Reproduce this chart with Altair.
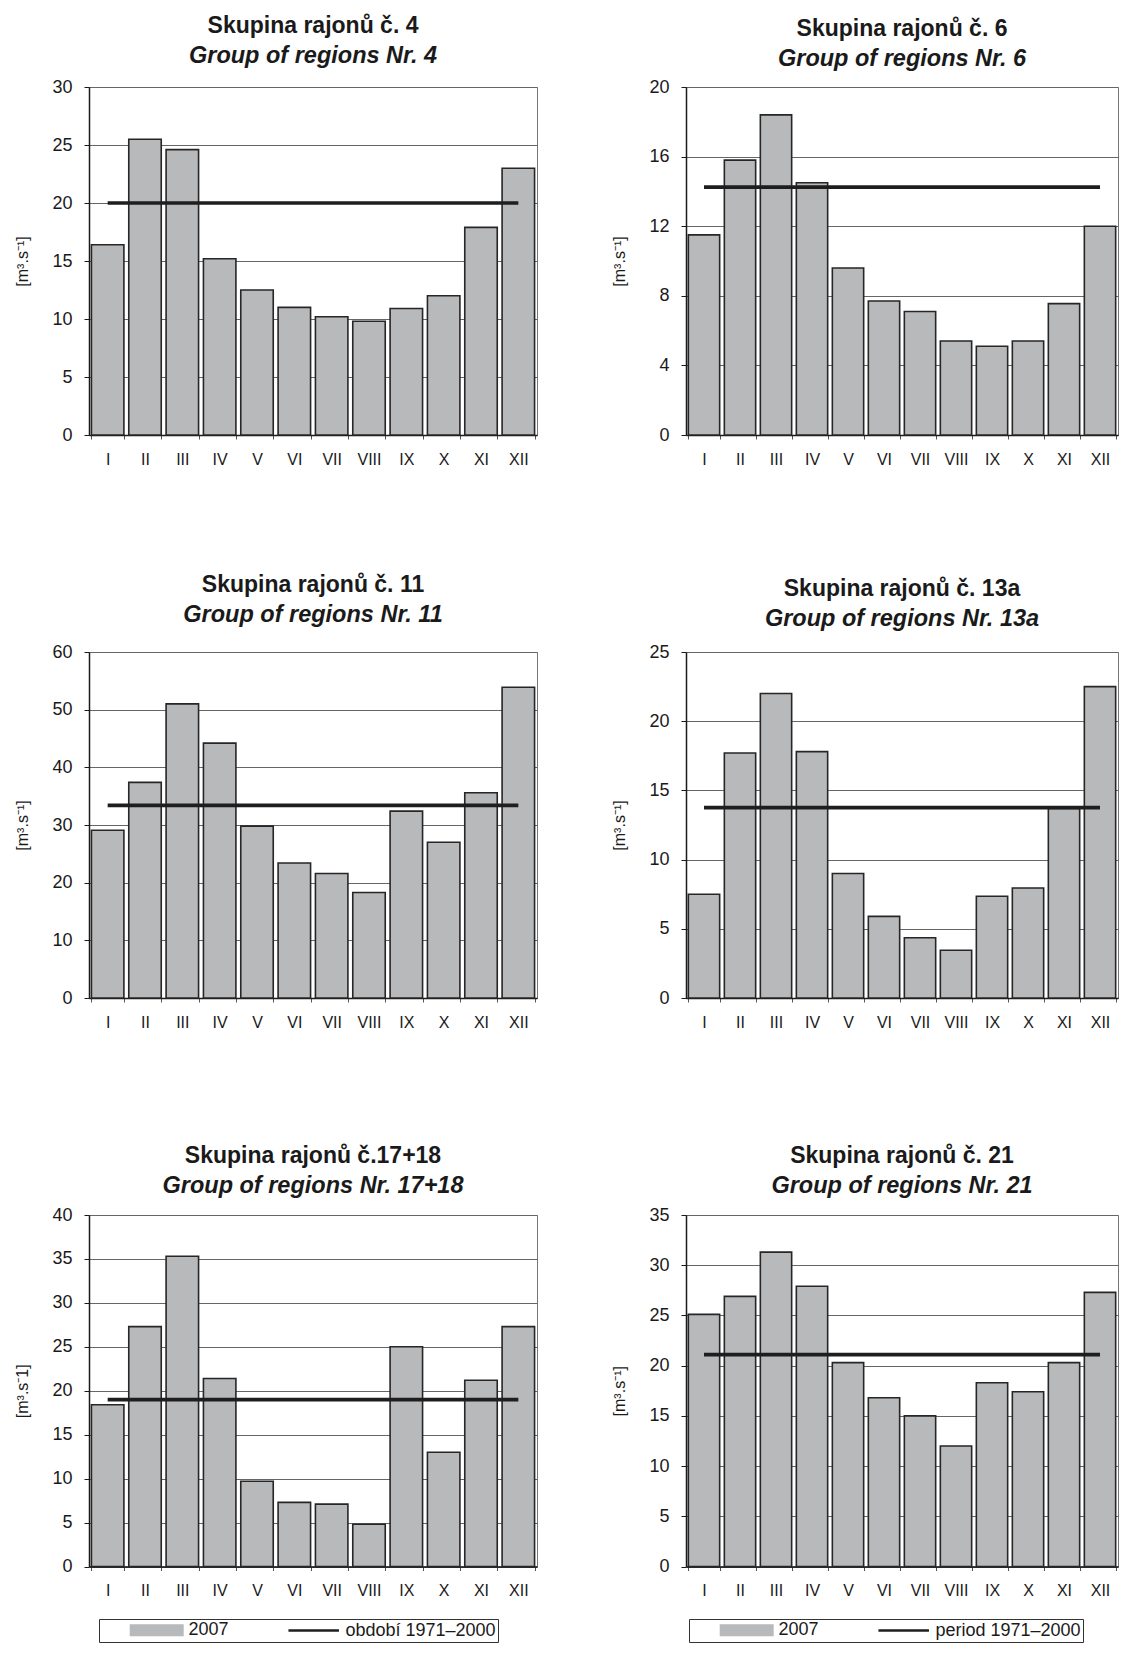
import altair as alt
import pandas as pd

FONT = "Liberation Sans, Arial, Helvetica, sans-serif"
TXT = "#1a1a1a"
BAR_FILL = "#b8b9bb"
BAR_STROKE = "#262626"
LINE_COLOR = "#1e1e1e"
GRID = "#666666"

months = ["I", "II", "III", "IV", "V", "VI", "VII", "VIII", "IX", "X", "XI", "XII"]
line_ends = ["I", "XII"]

titles_cz = ["Skupina rajonů č. 4", "Skupina rajonů č. 6", "Skupina rajonů č. 11",
             "Skupina rajonů č. 13a", "Skupina rajonů č.17+18", "Skupina rajonů č. 21"]
titles_en = ["Group of regions Nr. 4", "Group of regions Nr. 6", "Group of regions Nr. 11",
             "Group of regions Nr. 13a", "Group of regions Nr. 17+18", "Group of regions Nr. 21"]

# 2007 monthly values [m3/s]
v4 = [16.4, 25.5, 24.6, 15.2, 12.5, 11.0, 10.2, 9.8, 10.9, 12.0, 17.9, 23.0]
v6 = [11.5, 15.8, 18.4, 14.5, 9.6, 7.7, 7.1, 5.4, 5.1, 5.4, 7.55, 12.0]
v11 = [29.1, 37.4, 51.0, 44.2, 29.8, 23.4, 21.6, 18.3, 32.4, 27.0, 35.6, 53.9]
v13a = [7.5, 17.7, 22.0, 17.8, 9.0, 5.9, 4.35, 3.45, 7.35, 7.95, 13.7, 22.5]
v17 = [18.4, 27.3, 35.3, 21.4, 9.7, 7.3, 7.1, 4.8, 25.0, 13.0, 21.2, 27.3]
v21 = [25.1, 26.9, 31.3, 27.9, 20.3, 16.8, 15.0, 12.0, 18.3, 17.4, 20.3, 27.3]
values = [v4, v6, v11, v13a, v17, v21]

# long-term mean 1971-2000
ltm = [20.0, 14.25, 33.4, 13.75, 19.0, 21.1]

y_max = [30, 20, 60, 25, 40, 35]
y_ticks = [
    [0, 5, 10, 15, 20, 25, 30],
    [0, 4, 8, 12, 16, 20],
    [0, 10, 20, 30, 40, 50, 60],
    [0, 5, 10, 15, 20, 25],
    [0, 5, 10, 15, 20, 25, 30, 35, 40],
    [0, 5, 10, 15, 20, 25, 30, 35],
]
y_titles = ["[m³.s⁻¹]", "[m³.s⁻¹]", "[m³.s⁻¹]", "[m³.s⁻¹]", "[m³.s⁻1]", "[m³.s⁻¹]"]

bar_label = "2007"
line_labels = ["období 1971–2000", "period 1971–2000", "období 1971–2000",
               "period 1971–2000", "období 1971–2000", "period 1971–2000"]
show_legend = [False, False, False, False, True, True]

# layout (px)
widths = [448, 432, 448, 432, 448, 432]
heights = [348, 348, 346, 346, 351.5, 351.5]
title_offsets = [10.5, 7.3, 16.3, 13, 9, 9]
legend_x = [0, 0, 0, 0, 10, 3]
legend_y = 404

RECT_PATH = "M-4.5,-1H4.5V1H-4.5Z"
LINE_PATH = "M-4.21,-0.22H4.21V0.22H-4.21Z"


def make_legend(i):
    return alt.Legend(
        orient="none", legendX=legend_x[i], legendY=legend_y,
        direction="horizontal", columns=2, title=None,
        padding=2, strokeColor="#333333", fillColor="white",
        symbolSize=144, symbolStrokeWidth=1.8,
        symbolStrokeColor="#111111", symbolOpacity=1,
        symbolOffset=46.7, labelOffset=22.7, columnPadding=29,
        labelFont=FONT, labelFontSize=18, labelColor=TXT,
    )


def panel(i):
    w = widths[i]
    h = heights[i]
    bars_df = pd.DataFrame({"month": months, "value": values[i], "series": bar_label})
    line_df = pd.DataFrame({"month": line_ends, "value": [ltm[i], ltm[i]], "series": line_labels[i]})

    x_axis = alt.Axis(
        title=None, labelAngle=0, labelFont=FONT, labelFontSize=16, labelColor=TXT,
        labelPadding=12, tickBand="extent", tickSize=4, tickColor="#555555",
        domainColor=TXT, domainWidth=1.5, grid=False,
    )
    y_axis = alt.Axis(
        values=y_ticks[i], title=y_titles[i], titleX=-67, titleY=h / 2, titleAngle=270,
        titleAlign="center", titleBaseline="middle", titleFont=FONT, titleFontSize=16,
        titleFontWeight="normal", titleColor=TXT,
        labelFont=FONT, labelFontSize=18, labelColor=TXT, labelPadding=12,
        tickSize=5, tickColor=TXT, domainColor=TXT, domainWidth=1.5,
        grid=True, gridColor=GRID, gridWidth=1,
    )
    x_enc = alt.X("month:N", scale=alt.Scale(domain=months, paddingInner=0.13, paddingOuter=0.065), axis=x_axis)
    y_enc = alt.Y("value:Q", scale=alt.Scale(domain=[0, y_max[i]], nice=False, zero=True), axis=y_axis)
    cscale = alt.Scale(domain=[bar_label, line_labels[i]], range=[BAR_FILL, LINE_COLOR])
    leg = make_legend(i) if show_legend[i] else None
    color_enc = alt.Color("series:N", scale=cscale, legend=leg)

    bars = alt.Chart(bars_df).mark_bar(stroke=BAR_STROKE, strokeWidth=1.6, opacity=1).encode(
        x=x_enc, y=y_enc, color=color_enc
    )
    line = alt.Chart(line_df).mark_line(strokeWidth=3.7, strokeCap="butt", color=LINE_COLOR).encode(
        x=x_enc, y=y_enc
    )
    layers = [bars, line]
    if show_legend[i]:
        sscale = alt.Scale(domain=[bar_label, line_labels[i]], range=[RECT_PATH, LINE_PATH])
        keys = alt.Chart(line_df).mark_point(
            filled=True, opacity=0, stroke="#111111", strokeWidth=1.8, size=10
        ).encode(
            x=x_enc, y=y_enc,
            color=color_enc,
            shape=alt.Shape("series:N", scale=sscale, legend=leg),
        )
        layers.append(keys)
    return alt.layer(*layers).properties(
        width=w, height=h,
        title=alt.TitleParams(
            text=titles_cz[i], subtitle=titles_en[i], anchor="middle", frame="group",
            offset=title_offsets[i], font=FONT, fontSize=23, fontWeight="bold", color=TXT,
            subtitleFont=FONT, subtitleFontSize=23.5, subtitleFontWeight="bold",
            subtitleFontStyle="italic", subtitleColor=TXT, subtitlePadding=6,
        ),
    )


chart = (
    alt.concat(*[panel(i) for i in range(6)], columns=2,
               spacing={"row": 217, "column": 149}, bounds="flush")
    .resolve_scale(x="independent", y="independent", color="independent", shape="independent")
    .resolve_legend(color="independent", shape="independent")
    .properties(padding={"left": 5, "top": 6, "right": 0, "bottom": 0}, background="white")
    .configure_view(stroke="#777777", strokeWidth=1)
)

chart.save("out.html", embed_options={"renderer": "svg", "actions": False})
